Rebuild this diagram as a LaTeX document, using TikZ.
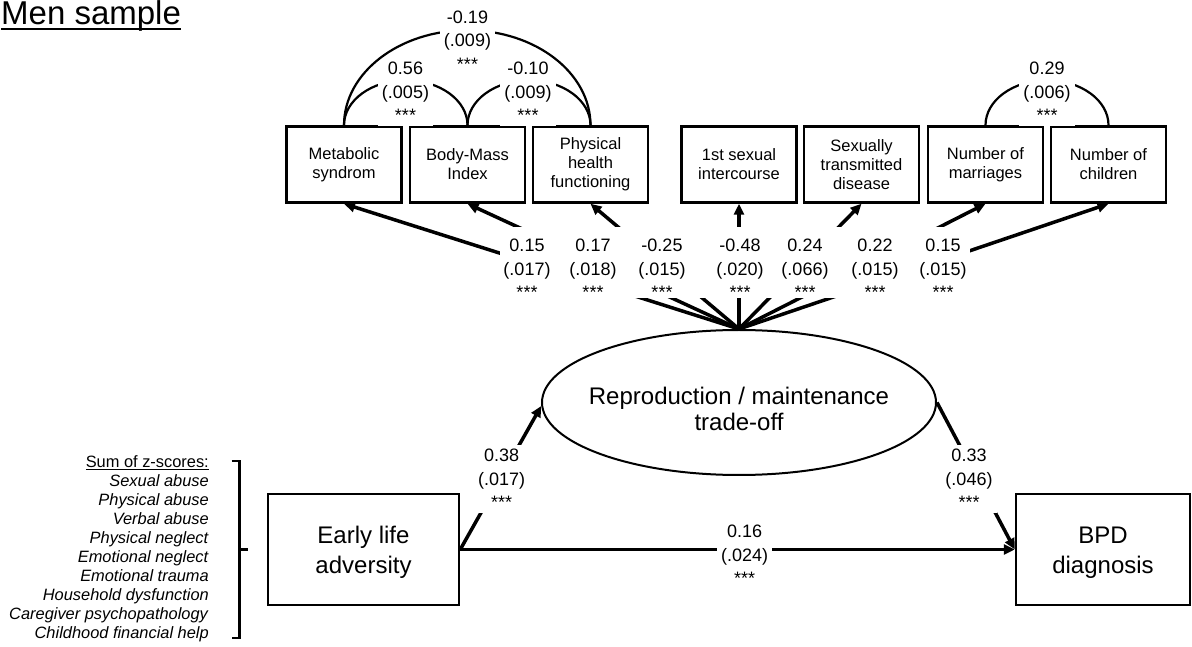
\documentclass[tikz,border=0pt]{standalone}
\usepackage{fontspec}
\setmainfont{Liberation Sans}
\usetikzlibrary{shapes.geometric,arrows.meta}
\newcommand{\myul}[3]{\leavevmode\setbox0\hbox{#3}\rlap{\rule[-#1]{\wd0}{#2}}\box0}
\begin{document}
\begin{tikzpicture}[x=1pt,y=1pt,
  obs/.style={draw, line width=2.5pt, minimum width=115pt, minimum height=76pt, inner sep=0pt, align=center, font=\fontsize{16.5}{19}\selectfont},
  bigbox/.style={draw, line width=2.5pt, minimum height=111pt, inner sep=0pt, align=center, font=\fontsize{24}{30}\selectfont},
  coef/.style={align=center, inner sep=2pt, font=\fontsize{18}{23.5}\selectfont},
  covlab/.style={coef, fill=white, inner sep=4pt},
  pathar/.style={line width=3.5pt, -{Triangle[length=11pt,width=10pt]}},
  covar/.style={line width=2.2pt},
]
\useasboundingbox (0,0) rectangle (1192,646);

% title
\node[anchor=base west, inner sep=0pt, font=\fontsize{33}{33}\selectfont] (title) at (1,621) {\myul{5pt}{2.4pt}{Men sample}};

% observed indicators
\node[obs] (met) at (344,481.5) {Metabolic\\syndrom};
\node[obs] (bmi) at (467.5,481.5) {Body-Mass\\Index};
\node[obs] (phy) at (590.5,481.5) {Physical\\health\\functioning};
\node[obs] (sex) at (739,481.5) {1st sexual\\intercourse};
\node[obs] (std) at (861.5,481.5) {Sexually\\transmitted\\disease};
\node[obs] (mar) at (985.5,481.5) {Number of\\marriages};
\node[obs] (chi) at (1108.5,481.5) {Number of\\children};

% latent
\node[draw, ellipse, line width=2pt, minimum width=394pt, minimum height=145pt, inner sep=0pt,
  label={[yshift=-6.8pt, align=center, inner sep=0pt, font=\fontsize{24}{26}\selectfont]center:Reproduction / maintenance\\trade-off}] (rt) at (739,243.5) {};

% exogenous / outcome
\node[bigbox, minimum width=191pt] (ela) at (363.5,96.5) {\rule{0pt}{23pt}Early life\\adversity};
\node[bigbox, minimum width=174pt] (bpd) at (1103,96.5) {\rule{0pt}{23pt}BPD\\diagnosis};

% loadings
\foreach \n in {met,bmi,phy,sex,std,mar,chi} \draw[pathar] (rt.north) -- (\n.south);
\fill[white] (500,348) rectangle (970,419);
\node[coef] (l1) at (527,377) {0.15\\(.017)\\***};
\node[coef] (l2) at (593,377) {0.17\\(.018)\\***};
\node[coef] (l3) at (662,377) {-0.25\\(.015)\\***};
\node[coef] (l4) at (740,377) {-0.48\\(.020)\\***};
\node[coef] (l5) at (805,377) {0.24\\(.066)\\***};
\node[coef] (l6) at (875,377) {0.22\\(.015)\\***};
\node[coef] (l7) at (943,377) {0.15\\(.015)\\***};

% covariances
\draw[covar] (met.north) arc[start angle=180, end angle=0, x radius=61.75, y radius=45];
\draw[covar] (bmi.north) arc[start angle=180, end angle=0, x radius=61.5, y radius=45];
\draw[covar] (mar.north) arc[start angle=180, end angle=0, x radius=61.5, y radius=45];
\node[covlab] (c2) at (405.5,554) {0.56\\(.005)\\***};
\node[covlab] (c3) at (528,554) {-0.10\\(.009)\\***};
\node[covlab] (c4) at (1047,554) {0.29\\(.006)\\***};
\draw[covar] (met.north) arc[start angle=180, end angle=0, x radius=123.25, y radius=95];
\node[covlab] (c1) at (467.5,605.5) {-0.19\\(.009)\\***};

% structural paths
\draw[pathar] (ela.east) -- (rt.181.5);
\draw[pathar] (ela.east) -- (bpd.west);
\draw[pathar] (rt.east) -- (bpd.west);
\node[covlab] (b1) at (501.7,167) {0.38\\(.017)\\***};
\node[covlab] (b2) at (969,167) {0.33\\(.046)\\***};
\node[covlab] (b3) at (744.6,91) {0.16\\(.024)\\***};

% list of adversity indicators
\node[anchor=north east, inner sep=0pt, align=right, font=\fontsize{16.4}{19}\selectfont] (adv) at (209,191)
 {\myul{3pt}{1.2pt}{Sum of z-scores:}\\\textit{Sexual abuse}\\\textit{Physical abuse}\\\textit{Verbal abuse}\\\textit{Physical neglect}\\\textit{Emotional neglect}\\\textit{Emotional trauma}\\\textit{Household dysfunction}\\\textit{Caregiver psychopathology}\\\textit{Childhood financial help}};
\draw[line width=2.5pt] (231.5,185) -- (239.5,185) -- (239.5,8) -- (231.5,8);
\draw[line width=2.5pt] (239.5,96.5) -- (248,96.5);
\end{tikzpicture}
\end{document}
